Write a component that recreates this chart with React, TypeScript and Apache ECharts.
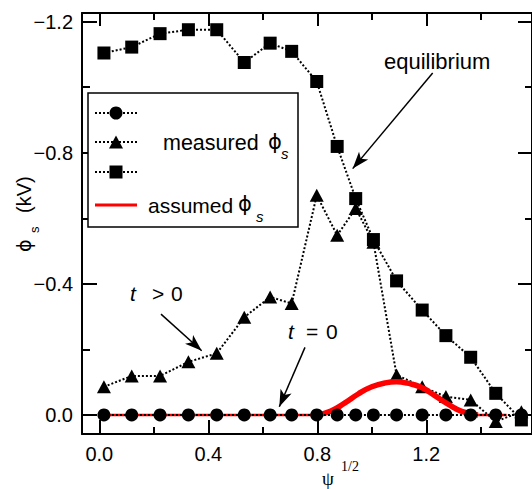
import React, { useEffect, useRef } from "react";
import * as echarts from "echarts";

// ---- data ----
const psiX = [0.017, 0.119, 0.223, 0.327, 0.431, 0.532, 0.627, 0.706, 0.798, 0.873, 0.941, 1.006, 1.091, 1.185, 1.272, 1.363, 1.455, 1.549];
const phiT0 = [0, 0, 0, 0, 0, 0, 0, 0, 0, 0, 0, 0, 0, 0, 0, 0, 0, 0];
const phiTPos = [-0.086, -0.119, -0.119, -0.162, -0.188, -0.298, -0.36, -0.34, -0.67, -0.548, -0.63, -0.527, -0.122, -0.086, -0.056, -0.046, 0.02, -0.01];
const phiEq = [-1.104, -1.122, -1.163, -1.175, -1.175, -1.075, -1.134, -1.109, -1.017, -0.819, -0.66, -0.535, -0.409, -0.32, -0.242, -0.176, -0.066, 0.015];
const assumedX = [0.8, 0.85, 0.9, 0.95, 1.0, 1.05, 1.09, 1.13, 1.18, 1.23, 1.28, 1.33, 1.39];
const assumedY = [0, -0.012, -0.036, -0.064, -0.086, -0.098, -0.101, -0.097, -0.085, -0.06, -0.033, -0.011, 0];
const assumedBaseLeftX = [0.017, 0.8];
const assumedBaseRightX = [1.39, 1.495];
const xMajorTicks = [0, 0.4, 0.8, 1.2];
const xMinorTicks = [0.2, 0.6, 1.0, 1.4];
const yMajorTicks = [-1.2, -0.8, -0.4, 0];
const yMinorTicks = [-1.0, -0.6, -0.2];
// annotation arrows in data coordinates: [from, to]
const annotationArrows = [
  [[1.2235, -1.0427], [0.93, -0.7514]],
  [[0.2264, -0.3076], [0.3758, -0.1959]],
  [[0.7549, -0.2062], [0.6606, -0.0253]],
];

const X_MIN = -0.0635;
const X_MAX = 1.588;
const Y_MIN = -1.226;
const Y_MAX = 0.058;
const FONT = "'Liberation Sans', Arial, 'DejaVu Sans', sans-serif";
const PHI_FONT = "'DejaVu Sans', 'Liberation Sans', sans-serif";
const SERIF = "'Liberation Serif', 'DejaVu Serif', serif";

function xAxisDef(position: string, ticks: number[], len: number, line: boolean, labels: boolean) {
  return {
    type: "value",
    position,
    min: X_MIN,
    max: X_MAX,
    axisLine: { show: line, onZero: false, lineStyle: { color: "#000", width: 2 } },
    axisTick: { show: true, inside: true, length: len, customValues: ticks, lineStyle: { color: "#000", width: 2 } },
    axisLabel: labels
      ? { show: true, customValues: ticks, formatter: (v: number) => v.toFixed(1), fontSize: 20, color: "#000", fontFamily: FONT, margin: 10 }
      : { show: false },
    splitLine: { show: false },
  };
}

function yAxisDef(position: string, ticks: number[], len: number, line: boolean, labels: boolean) {
  return {
    type: "value",
    position,
    inverse: true,
    min: Y_MIN,
    max: Y_MAX,
    axisLine: { show: line, onZero: false, lineStyle: { color: "#000", width: 2 } },
    axisTick: { show: true, inside: true, length: len, customValues: ticks, lineStyle: { color: "#000", width: 2 } },
    axisLabel: labels
      ? {
          show: true,
          customValues: ticks,
          formatter: (v: number) => (Math.abs(v) < 1e-9 ? "0.0" : "\u2212" + Math.abs(v).toFixed(1)),
          fontSize: 20,
          color: "#000",
          fontFamily: FONT,
          margin: 9,
        }
      : { show: false },
    splitLine: { show: false },
  };
}

const dotted = { color: "#000", width: 2, type: "dotted" };

export default function App() {
  const ref = useRef<HTMLDivElement>(null);
  useEffect(() => {
    if (!ref.current) return;
    const chart = echarts.init(ref.current, null, { renderer: "svg" });
    const txt = (x: number, y: number, text: string, size: number, extra: any = {}) => ({
      type: "text",
      x,
      y,
      silent: true,
      z: 100,
      style: { text, fontSize: size, fontFamily: FONT, fill: "#000", textVerticalAlign: "middle", textAlign: "left", ...extra },
    });
    const legendLine = (y: number) => ({
      type: "line",
      silent: true,
      z: 100,
      shape: { x1: 95, y1: y, x2: 137, y2: y },
      style: { stroke: "#000", lineWidth: 2, lineDash: [2, 2] },
    });
    const option: any = {
      animation: false,
      grid: { left: 82, top: 13, right: 0, bottom: 55, containLabel: false },
      xAxis: [
        xAxisDef("bottom", xMajorTicks, 14, true, true),
        xAxisDef("bottom", xMinorTicks, 7, false, false),
        xAxisDef("top", xMajorTicks, 13, true, false),
        xAxisDef("top", xMinorTicks, 7, false, false),
      ],
      yAxis: [
        yAxisDef("left", yMajorTicks, 15, true, true),
        yAxisDef("left", yMinorTicks, 8, false, false),
        yAxisDef("right", yMajorTicks, 14, true, false),
        yAxisDef("right", yMinorTicks, 7, false, false),
      ],
      series: [
        {
          type: "line",
          data: psiX.map((x, i) => [x, phiTPos[i]]),
          symbol: "triangle",
          symbolSize: [14, 13],
          itemStyle: { color: "#000" },
          lineStyle: dotted,
          z: 2,
          silent: true,
        },
        {
          type: "line",
          data: psiX.map((x, i) => [x, phiEq[i]]),
          symbol: "rect",
          symbolSize: 13,
          itemStyle: { color: "#000" },
          lineStyle: dotted,
          z: 2,
          silent: true,
        },
        {
          type: "line",
          data: assumedBaseLeftX.map((x) => [x, 0]),
          showSymbol: false,
          symbol: "none",
          lineStyle: { color: "#ff0000", width: 2.5 },
          z: 3,
          silent: true,
        },
        {
          type: "line",
          data: assumedBaseRightX.map((x) => [x, 0]),
          showSymbol: false,
          symbol: "none",
          lineStyle: { color: "#ff0000", width: 2.5 },
          z: 3,
          silent: true,
        },
        {
          type: "line",
          data: assumedX.map((x, i) => [x, assumedY[i]]),
          showSymbol: false,
          symbol: "none",
          smooth: true,
          lineStyle: { color: "#ff0000", width: 5.5 },
          z: 3,
          silent: true,
        },
        {
          type: "line",
          data: psiX.map((x, i) => [x, phiT0[i]]),
          symbol: "circle",
          symbolSize: 13,
          itemStyle: { color: "#000" },
          lineStyle: dotted,
          z: 4,
          silent: true,
          markLine: {
            silent: true,
            symbol: ["none", "arrow"],
            symbolSize: [9, 17],
            label: { show: false },
            emphasis: { disabled: true },
            lineStyle: { color: "#000", width: 1.5, type: "solid" },
            data: annotationArrows.map(([a, b]) => [{ coord: a }, { coord: b }]),
          },
        },
      ],
      graphic: [
        // legend box
        { type: "rect", silent: true, z: 99, shape: { x: 88, y: 93, width: 210, height: 134 }, style: { fill: "#fff", stroke: "#000", lineWidth: 1.5 } },
        legendLine(113),
        { type: "circle", silent: true, z: 101, shape: { cx: 116, cy: 113, r: 6.5 }, style: { fill: "#000" } },
        legendLine(142),
        { type: "polygon", silent: true, z: 101, shape: { points: [[116, 135.5], [123, 148.5], [109, 148.5]] }, style: { fill: "#000" } },
        legendLine(172),
        { type: "rect", silent: true, z: 101, shape: { x: 109.5, y: 165.5, width: 13, height: 13 }, style: { fill: "#000" } },
        { type: "line", silent: true, z: 100, shape: { x1: 95, y1: 205, x2: 137, y2: 205 }, style: { stroke: "#ff0000", lineWidth: 3 } },
        txt(163, 143, "measured", 21.5),
        txt(268, 142, "\u03d5", 21, { fontFamily: PHI_FONT }),
        txt(281, 153, "s", 15, { fontStyle: "italic" }),
        txt(148, 205, "assumed", 21),
        txt(238, 204, "\u03d5", 21, { fontFamily: PHI_FONT }),
        txt(256, 216, "s", 15, { fontStyle: "italic" }),
        // annotations
        txt(384, 61, "equilibrium", 22),
        txt(130, 293, "t", 21, { fontStyle: "italic" }),
        txt(152, 293, ">", 21),
        txt(171, 293, "0", 21),
        txt(288, 331, "t", 21, { fontStyle: "italic" }),
        txt(306, 331, "=", 21),
        txt(326, 331, "0", 21),
        // x axis title
        txt(322, 478, "\u03c8", 19, { fontFamily: SERIF }),
        txt(341, 466, "1/2", 14, { fontFamily: SERIF }),
        // y axis title (rotated)
        {
          type: "group",
          x: 24,
          y: 252,
          rotation: Math.PI / 2,
          silent: true,
          children: [
            { type: "text", x: 0, y: 0, style: { text: "\u03d5", fontSize: 19, fontFamily: PHI_FONT, fill: "#000", textVerticalAlign: "middle", textAlign: "left" } },
            { type: "text", x: 19, y: 10, style: { text: "s", fontSize: 13, fontFamily: FONT, fill: "#000", textVerticalAlign: "middle", textAlign: "left" } },
            { type: "text", x: 39, y: 0, style: { text: "(kV)", fontSize: 20, fontFamily: FONT, fill: "#000", textVerticalAlign: "middle", textAlign: "left" } },
          ],
        },
      ],
    };
    chart.setOption(option);
    return () => chart.dispose();
  }, []);
  return <div ref={ref} style={{ position: "fixed", left: 0, top: 0, width: 532, height: 489, background: "#fff" }} />;
}
